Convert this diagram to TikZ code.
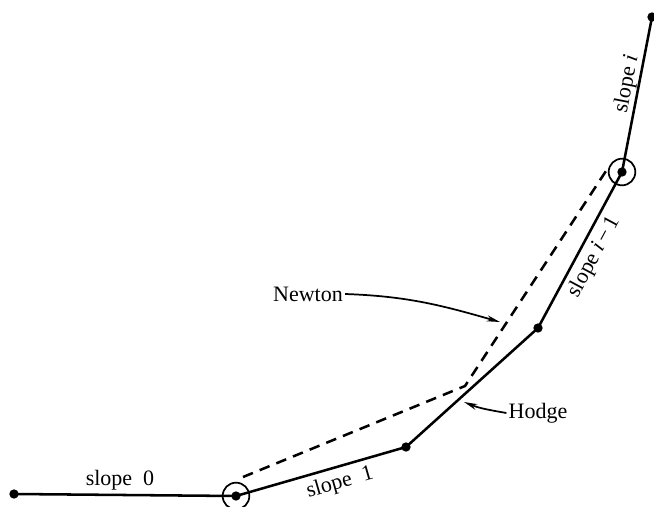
\documentclass[tikz,border=0pt]{standalone}
\usepackage{fontspec}
\setmainfont{Liberation Serif}
\usetikzlibrary{arrows.meta}
\tikzset{
  hodge line/.style={line width=1.9pt},
  newton line/.style={line width=1.9pt,dash pattern={on 8pt off 5.5pt}},
  vertex/.style={circle,fill,inner sep=0pt,minimum size=7pt},
  ring/.style={circle,draw,line width=1.3pt,inner sep=0pt,minimum size=20pt},
  lbl/.style={font=\fontsize{16.5}{18}\selectfont,inner sep=1.5pt},
  pointer/.style={line width=1.3pt,-{Stealth[length=10pt,width=4.5pt]}}
}
\begin{document}
\begin{tikzpicture}[x=0.75pt,y=0.75pt,yscale=-1,xscale=1]
\useasboundingbox (0,0) rectangle (654,507);
% vertices
\coordinate (p0) at (14,494);
\coordinate (p1) at (236,496);
\coordinate (p2) at (406,447);
\coordinate (p3) at (538,328);
\coordinate (p4) at (622,172);
\coordinate (p5) at (652,17);
%Newton polygon
\coordinate (n0) at (243,477);
\coordinate (n1) at (465,386);
\coordinate (n2) at (606,171);
\draw [newton line] (n0) -- (n1) -- (n2);
%Hodge polygon
\draw [hodge line] (p0) -- (p1) -- (p2) -- (p3) -- (p4) -- (p5);
\foreach \p in {p0,p1,p2,p3,p4,p5}
  \node [vertex] at (\p) {};
\node [ring] at (p1) {};
\node [ring] at (p4) {};
% slope labels
\node [lbl] (s0) at (120,480) {slope\enspace 0};
\node [lbl,rotate=16] (s1) at (340,483) {slope\enspace 1};
\node [lbl,rotate=61.7] (si1) at (594,257) {slope \textit{i}\,−\,1};
\node [lbl,rotate=79] (si) at (627,84) {slope \textit{i}};
% Text Node
\node [lbl] (newton) at (308,294) {Newton};
\node [lbl] (hodge) at (538,413) {Hodge};
\coordinate (newtontip) at (500,322);
\coordinate (hodgetip) at (464,402);
\draw [pointer] (newton.east) to [out=2,in=-164] (newtontip);
\draw [pointer] (hodge.west) to [out=-170,in=22] (hodgetip);
\end{tikzpicture}
\end{document}
